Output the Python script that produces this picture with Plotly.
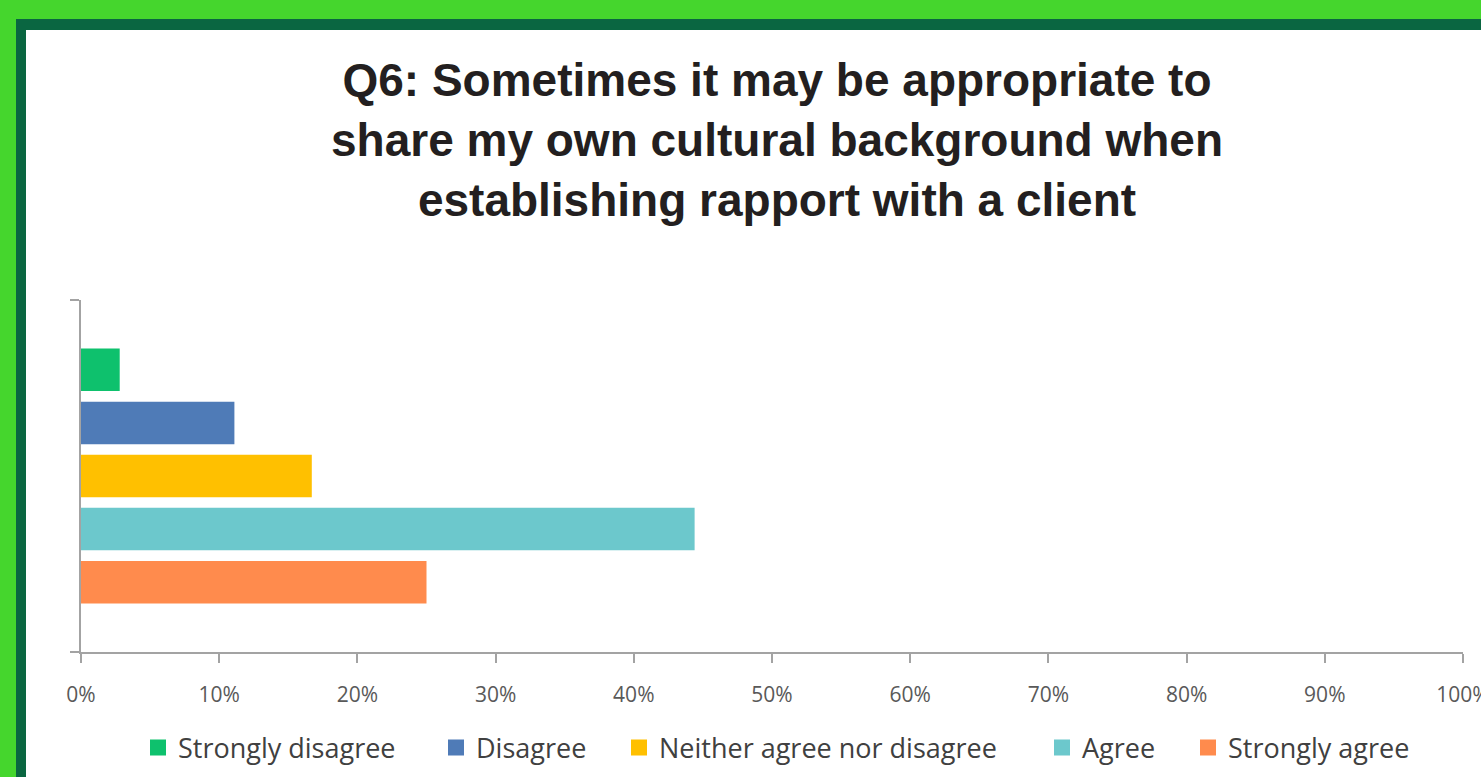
import plotly.graph_objects as go

# Survey responses (% of respondents)
categories = ["Strongly disagree", "Disagree", "Neither agree nor disagree", "Agree", "Strongly agree"]
percentages = [2.8, 11.1, 16.7, 44.4, 25.0]
colors = ["#0ec16d", "#4f7bb7", "#ffc000", "#6cc8cc", "#ff8b4d"]
x_ticks = list(range(0, 101, 10))
x_ticklabels = [f"{v}%" for v in x_ticks]

title_text = ("Q6: Sometimes it may be appropriate to<br>"
              "share my own cultural background when<br>"
              "establishing rapport with a client")

W, H = 1481, 777
L, R, T, B = 81, 18, 300, 125
plot_w, plot_h = W - L - R, H - T - B


def px_x(p):
    return (p - L) / plot_w


def px_y(p):
    return (H - B - p) / plot_h


# left edge (px) of each legend entry along the bottom row
legend_left_px = [138, 436, 619, 1042, 1188]
legend_ids = ["legend", "legend2", "legend3", "legend4", "legend5"]
legend_font = dict(family="Open Sans, sans-serif", size=27, color="#404040")

fig = go.Figure()

for name, val, col, lid in zip(categories, percentages, colors, legend_ids):
    fig.add_trace(go.Bar(
        x=[val], y=[0], orientation="h", name=name,
        marker=dict(color=col, line=dict(width=0)),
        showlegend=False,
    ))
    # larger square swatch for the legend
    fig.add_trace(go.Scatter(
        x=[None], y=[None], mode="markers", name=name,
        marker=dict(symbol="square", size=16, color=col),
        showlegend=True, legend=lid,
    ))

axis_grey = "#a3a3a3"

legends = {}
for lid, lx in zip(legend_ids, legend_left_px):
    legends[lid] = dict(
        orientation="h",
        x=px_x(lx), xanchor="left",
        y=px_y(748), yanchor="middle",
        font=legend_font,
        itemwidth=30,
        bgcolor="rgba(0,0,0,0)",
    )

fig.update_layout(
    width=W, height=H,
    margin=dict(l=L, r=R, t=T, b=B, autoexpand=False),
    paper_bgcolor="#45d62d",
    plot_bgcolor="rgba(0,0,0,0)",
    barmode="group",
    bargap=0.246,
    bargroupgap=0.2,
    title=dict(
        text=title_text,
        x=777 / W, xanchor="center", xref="container",
        y=1 - 96 / H, yanchor="top", yref="container",
        font=dict(family="Liberation Sans, Arial, sans-serif", size=46, color="#231f20", weight="bold"),
    ),
    xaxis=dict(
        range=[0, 100],
        tickmode="array", tickvals=x_ticks, ticktext=x_ticklabels,
        showgrid=False, zeroline=False,
        showline=True, linecolor=axis_grey, linewidth=2,
        ticks="outside", ticklen=9, tickwidth=2, tickcolor=axis_grey,
        ticklabelstandoff=14, ticklabeloverflow="allow",
        tickfont=dict(family="Open Sans, sans-serif", size=21, color="#595959"),
    ),
    yaxis=dict(
        range=[0.5, -0.5],
        tickmode="array", tickvals=[-0.5, 0.5], ticktext=["", ""],
        showgrid=False, zeroline=False,
        showline=True, linecolor=axis_grey, linewidth=2,
        ticks="outside", ticklen=9, tickwidth=2, tickcolor=axis_grey,
    ),
    shapes=[
        # dark green inner frame
        dict(type="rect", xref="paper", yref="paper", layer="below",
             x0=px_x(16), x1=px_x(W + 20), y0=px_y(H + 20), y1=px_y(19),
             fillcolor="#0a6641", line=dict(width=0)),
        # white chart panel
        dict(type="rect", xref="paper", yref="paper", layer="below",
             x0=px_x(26), x1=px_x(W + 20), y0=px_y(H + 20), y1=px_y(30),
             fillcolor="#ffffff", line=dict(width=0)),
    ],
    **legends,
)

fig.write_html("out.html")
